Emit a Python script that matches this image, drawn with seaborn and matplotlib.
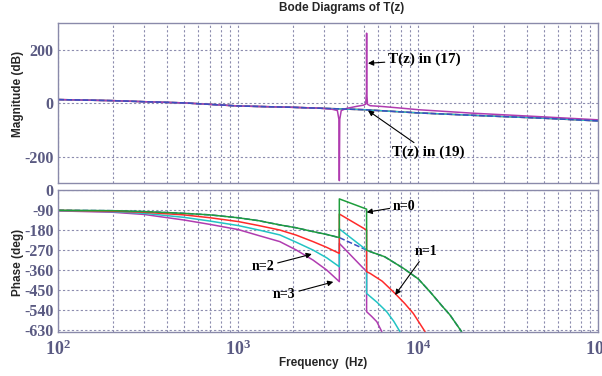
import numpy as np
import pandas as pd
import seaborn as sns
import matplotlib.pyplot as plt
from matplotlib.ticker import FixedLocator, LogLocator, NullFormatter

# magnitude, smooth T(z) in (19)
mag_f = [100, 200, 300, 500, 1000, 2000, 3000, 5000, 10000, 20000, 50000, 100000]
mag_db = [14, 10, 6, 1.5, -10, -15, -19, -24, -36, -45, -56, -66]

# magnitude, T(z) in (17) with notch and peak
mag17_f = [100, 200, 300, 500, 1000, 2000, 2800, 3300, 3550, 3620, 3640, 3660, 3730,
           4000, 4500, 4950, 5100, 5150, 5160, 5170, 5220, 5400, 6300, 8000, 10000,
           20000, 50000, 100000]
mag17_db = [14, 10, 6, 1.5, -10, -15, -18, -22, -27, -60, -290, -60, -27,
            -19, -12, -7, -3, 40, 263, 40, -4, -9, -12, -18, -24,
            -37, -51, -62]

# phase curves, n = 0..3
ph0_f = [100, 200, 300, 500, 700, 1000, 1300, 1700, 2100, 2600, 3100, 3640, 3640,
         5160, 5160, 5400, 6500, 8260, 10000, 11600, 13500, 15000, 17400]
ph0_d = [-91, -93, -97, -105, -112, -125, -138, -157, -170, -187, -200, -214, -40,
         -86, -270, -277, -300, -352, -400, -457, -520, -562, -637]
ph1_f = [100, 200, 300, 500, 700, 1000, 1300, 1700, 2100, 2600, 3100, 3640, 3640,
         5160, 5160, 5400, 6300, 7420, 8400, 9380, 10900]
ph1_d = [-92, -95, -100, -112, -125, -142, -160, -180, -203, -232, -258, -285, -108,
         -180, -367, -375, -410, -465, -510, -555, -637]
ph2_f = [100, 200, 300, 500, 700, 1000, 1300, 1700, 2100, 2600, 3100, 3640, 3640,
         5160, 5160, 5900, 6670, 7300, 7910]
ph2_d = [-93, -97, -105, -123, -140, -160, -180, -202, -235, -270, -305, -345, -175,
         -270, -465, -505, -547, -590, -637]
ph3_f = [100, 200, 300, 500, 700, 1000, 1300, 1700, 2100, 2600, 3100, 3640, 3640,
         5160, 5160, 5500, 5880, 6270]
ph3_d = [-94, -100, -110, -135, -155, -178, -205, -232, -270, -315, -360, -412, -240,
         -367, -547, -568, -592, -637]
# smooth reference phase (dashed)
phs_f = [100, 200, 300, 500, 700, 1000, 1300, 1700, 2100, 2600, 3100, 3640, 5160,
         5400, 6500, 8260, 10000, 11600, 13500, 15000, 17400]
phs_d = [-91, -93, -97, -105, -112, -125, -138, -157, -170, -187, -200, -214, -270,
         -277, -300, -352, -400, -457, -520, -562, -637]

mag_ticks = [-200, 0, 200]
phase_ticks = [0, -90, -180, -270, -360, -450, -540, -630]
x_ticks = [1e2, 1e3, 1e4, 1e5]
x_labels = [r'$\mathbf{10^{2}}$', r'$\mathbf{10^{3}}$', r'$\mathbf{10^{4}}$', r'$\mathbf{10^{5}}$']

sns.set_style("white")
plt.rcParams['axes.unicode_minus'] = False
plt.rcParams['mathtext.fontset'] = 'custom'
plt.rcParams['mathtext.bf'] = 'Liberation Serif:bold'
plt.rcParams['mathtext.rm'] = 'Liberation Serif:bold'

GREEN, RED, CYAN, MAGENTA, BLUE = '#1e9e3c', '#ff2a2a', '#22c4c4', '#b03cb0', '#3a4fc0'
TICKC, SPINEC, GRIDC = '#5a5a82', '#8a8aaa', '#8c8cae'

fig = plt.figure(figsize=(6.02, 3.76), dpi=100)
ax1 = fig.add_axes([0.0969, 0.5125, 0.897, 0.4255])
ax2 = fig.add_axes([0.0969, 0.1178, 0.897, 0.3769])

def lp(ax, f, v, color, ls='-'):
    sns.lineplot(x=f, y=v, ax=ax, color=color, linestyle=ls, lw=1.1,
                 estimator=None, sort=False, legend=False)

# magnitude panel
lp(ax1, mag_f, mag_db, RED)
lp(ax1, mag_f, mag_db, CYAN)
lp(ax1, mag17_f, mag17_db, MAGENTA)
lp(ax1, mag_f, mag_db, BLUE, '--')

# phase panel
lp(ax2, phs_f, phs_d, BLUE, '--')
lp(ax2, ph3_f, ph3_d, MAGENTA)
lp(ax2, ph2_f, ph2_d, CYAN)
lp(ax2, ph1_f, ph1_d, RED)
lp(ax2, ph0_f, ph0_d, GREEN)

for ax in (ax1, ax2):
    ax.set_xscale('log')
    ax.set_xlim(1e2, 1e5)
    ax.xaxis.set_major_locator(FixedLocator(x_ticks))
    ax.xaxis.set_minor_locator(LogLocator(base=10, subs=np.arange(2, 10)))
    ax.xaxis.set_minor_formatter(NullFormatter())
    ax.grid(which='major', linestyle=(0, (2, 2)), color=GRIDC, lw=0.8)
    ax.grid(which='minor', axis='x', linestyle=(0, (2, 2)), color=GRIDC, lw=0.8)
    for s in ax.spines.values():
        s.set_color(SPINEC)
        s.set_linewidth(1.0)
    ax.tick_params(which='both', direction='in', color=SPINEC, length=3,
                   labelcolor=TICKC)
    ax.tick_params(which='minor', length=2)

ax1.set_ylim(-300, 300)
ax1.set_yticks(mag_ticks)
ax1.set_yticklabels([str(t) for t in mag_ticks], fontfamily='Liberation Serif',
                    fontweight='bold', fontsize=11.5)
ax1.set_xticklabels([])

ax2.set_ylim(-637, 0)
ax2.set_yticks(phase_ticks)
ax2.set_yticklabels([str(t) for t in phase_ticks], fontfamily='Liberation Serif',
                    fontweight='bold', fontsize=11.5)
ax2.set_xticklabels(x_labels, fontsize=13)
ax2.tick_params(axis='x', pad=6)

ax1.set_ylabel('Magnitude (dB)', fontsize=8.5, fontweight='bold', fontfamily='Liberation Sans')
ax1.yaxis.set_label_coords(-0.064, 0.56)
ax2.set_ylabel('Phase (deg)', fontsize=8.5, fontweight='bold', fontfamily='Liberation Sans')
ax2.yaxis.set_label_coords(-0.064, 0.49)
ax2.set_xlabel('Frequency  (Hz)', fontsize=8.5, fontweight='bold', fontfamily='Liberation Sans')
ax2.xaxis.set_label_coords(0.491, -0.175)
fig.text(342 / 602, 1 - 8 / 376, 'Bode Diagrams of T(z)', ha='center', va='center',
         fontsize=8.5, fontweight='bold', fontfamily='Liberation Sans')

arrow = dict(arrowstyle='-|>', color='black', lw=0.8, mutation_scale=8, shrinkA=0, shrinkB=0)
tfont = dict(fontfamily='Liberation Serif', fontweight='bold', color='black')

ax1.annotate('T(z) in (17)', xy=(5250, 150), xytext=(6790, 164),
             ha='left', va='center', fontsize=11, arrowprops=arrow, **tfont)
ax1.annotate('T(z) in (19)', xy=(5250, -27), xytext=(7150, -185),
             ha='left', va='center', fontsize=11, arrowprops=arrow, **tfont)
ax2.annotate('n=0', xy=(5160, -100), xytext=(7230, -72),
             ha='left', va='center', fontsize=10, arrowprops=arrow, **tfont)
ax2.annotate('n=1', xy=(7430, -472), xytext=(9590, -278),
             ha='left', va='center', fontsize=10, arrowprops=arrow, **tfont)
ax2.annotate('n=2', xy=(2560, -288), xytext=(1186, -345),
             ha='left', va='center', fontsize=10, arrowprops=arrow, **tfont)
ax2.annotate('n=3', xy=(3370, -413), xytext=(1560, -472),
             ha='left', va='center', fontsize=10, arrowprops=arrow, **tfont)

fig.savefig('out.png', dpi=100)
